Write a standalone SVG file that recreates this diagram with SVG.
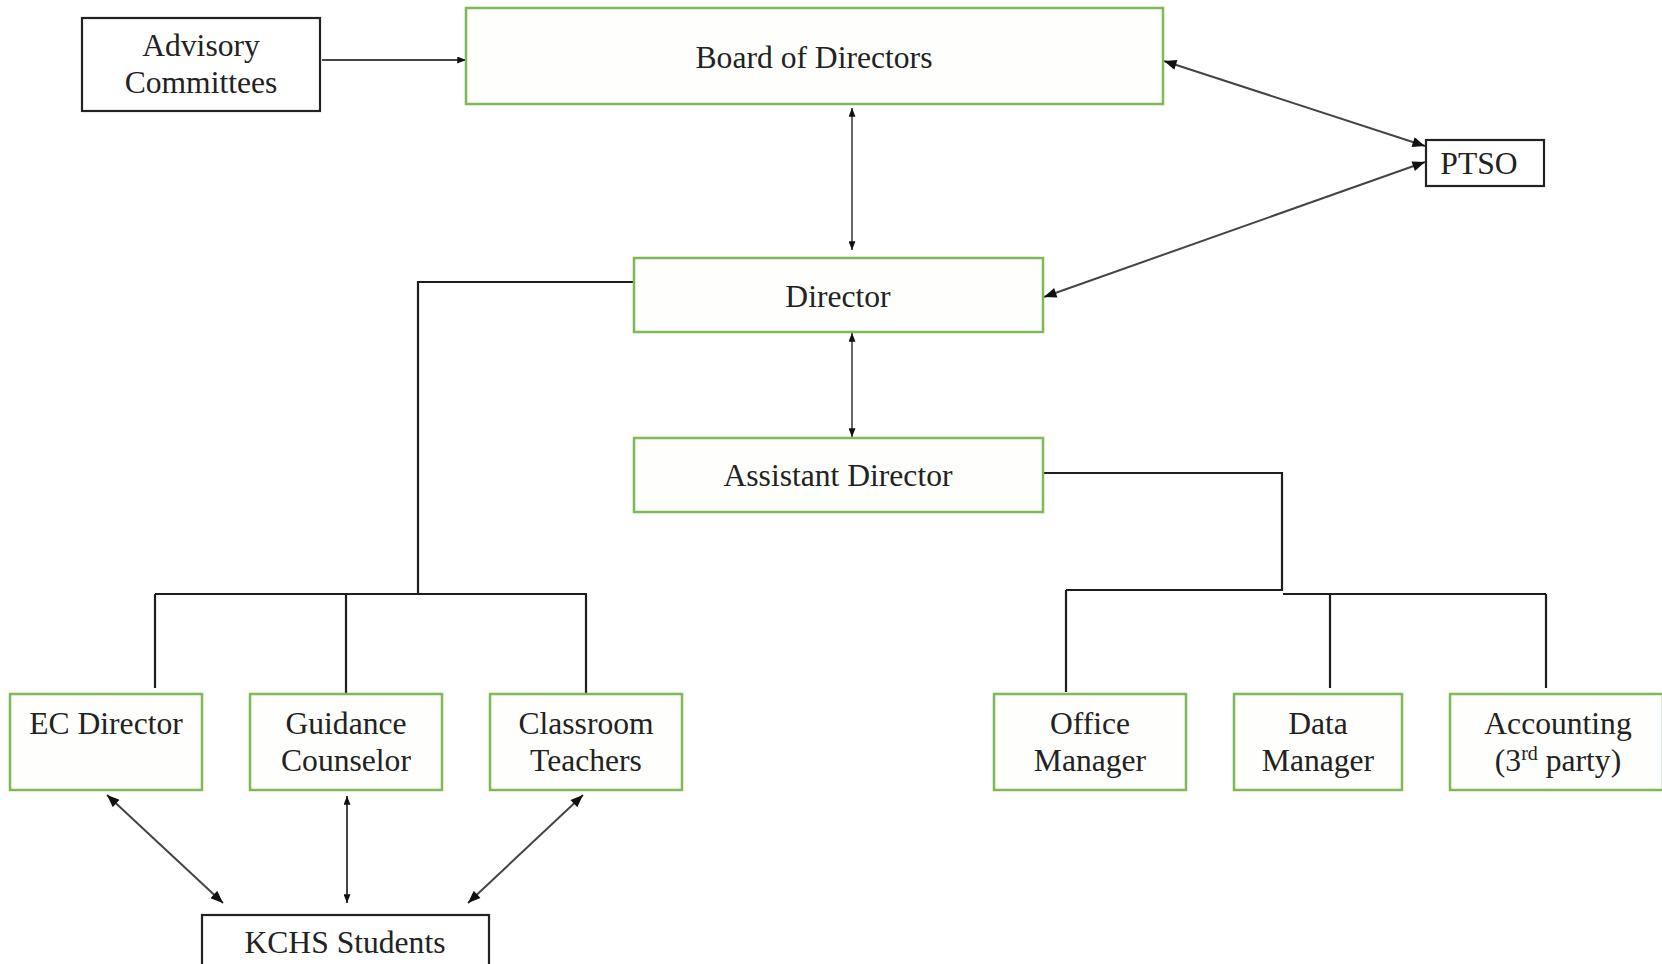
<svg xmlns="http://www.w3.org/2000/svg" width="1662" height="964" viewBox="0 0 1662 964">
<style>
.g{fill:#fefffc;stroke:#7db955;stroke-width:2.5}
.b{fill:#ffffff;stroke:#222;stroke-width:2.2}
.t{font-family:"Liberation Serif","Times New Roman",serif;font-size:31.6px;fill:#222;text-anchor:middle}
.c{fill:none;stroke:#1e1e1e;stroke-width:2.2}
.a{fill:none;stroke:#444;stroke-width:2}
.s{fill:none;stroke:#666;stroke-width:2}
</style>
<defs>
<marker id="ms" viewBox="0 0 10 8" refX="10" refY="4" markerWidth="9" markerHeight="7" markerUnits="userSpaceOnUse" orient="auto-start-reverse"><path d="M0,0 L10,4 L0,8 z" fill="#111"/></marker>
<marker id="ml" viewBox="0 0 10 8" refX="10" refY="4" markerWidth="14" markerHeight="10" markerUnits="userSpaceOnUse" orient="auto-start-reverse"><path d="M0,0 L10,4 L0,8 z" fill="#111"/></marker>
</defs>
<rect width="1662" height="964" fill="#ffffff"/>
<g id="connectors">
<line class="a" x1="322" y1="60" x2="466" y2="60" marker-end="url(#ms)"/>
<line class="a" x1="1164" y1="61" x2="1425" y2="146" marker-start="url(#ml)" marker-end="url(#ml)"/>
<line class="a" x1="1425" y1="162" x2="1044" y2="297" marker-start="url(#ml)" marker-end="url(#ml)"/>
<line class="s" x1="852" y1="108" x2="852" y2="250" marker-start="url(#ms)" marker-end="url(#ms)"/>
<line class="s" x1="852" y1="333" x2="852" y2="437" marker-start="url(#ms)" marker-end="url(#ms)"/>
<polyline class="c" points="634,282 418,282 418,594"/>
<line class="c" x1="155" y1="594" x2="587" y2="594"/>
<line class="c" x1="155" y1="594" x2="155" y2="688"/>
<line class="c" x1="346" y1="594" x2="346" y2="693"/>
<line class="c" x1="586" y1="594" x2="586" y2="694"/>
<line class="a" x1="107" y1="795" x2="223" y2="903" marker-start="url(#ml)" marker-end="url(#ml)"/>
<line class="a" x1="347" y1="796" x2="347" y2="903" marker-start="url(#ms)" marker-end="url(#ms)"/>
<line class="a" x1="583" y1="795" x2="468" y2="903" marker-start="url(#ml)" marker-end="url(#ml)"/>
<polyline class="c" points="1043,473 1282,473 1282,591"/>
<line class="c" x1="1066" y1="590" x2="1282" y2="590"/>
<line class="c" x1="1283" y1="594" x2="1546" y2="594"/>
<line class="c" x1="1066" y1="590" x2="1066" y2="692"/>
<line class="c" x1="1330" y1="594" x2="1330" y2="688"/>
<line class="c" x1="1546" y1="594" x2="1546" y2="688"/>
</g>
<g id="advisory"><rect class="b" x="82" y="18" width="238" height="93"/><text class="t" x="201" y="56">Advisory</text><text class="t" x="201" y="93">Committees</text></g>
<g id="board"><rect class="g" x="466" y="8" width="697" height="96"/><text class="t" x="814" y="68">Board of Directors</text></g>
<g id="ptso"><rect class="b" x="1426" y="140" width="118" height="46"/><text class="t" x="1479" y="174">PTSO</text></g>
<g id="director"><rect class="g" x="634" y="258" width="409" height="74"/><text class="t" x="838" y="307">Director</text></g>
<g id="assistant"><rect class="g" x="634" y="438" width="409" height="74"/><text class="t" x="838" y="486">Assistant Director</text></g>
<g id="ec"><rect class="g" x="10" y="694" width="192" height="96"/><text class="t" x="106" y="734">EC Director</text></g>
<g id="guidance"><rect class="g" x="250" y="694" width="192" height="96"/><text class="t" x="346" y="734">Guidance</text><text class="t" x="346" y="771">Counselor</text></g>
<g id="classroom"><rect class="g" x="490" y="694" width="192" height="96"/><text class="t" x="586" y="734">Classroom</text><text class="t" x="586" y="771">Teachers</text></g>
<g id="office"><rect class="g" x="994" y="694" width="192" height="96"/><text class="t" x="1090" y="734">Office</text><text class="t" x="1090" y="771">Manager</text></g>
<g id="data"><rect class="g" x="1234" y="694" width="168" height="96"/><text class="t" x="1318" y="734">Data</text><text class="t" x="1318" y="771">Manager</text></g>
<g id="accounting"><rect class="g" x="1450" y="694" width="213" height="96"/><text class="t" x="1558" y="734">Accounting</text><text class="t" x="1558" y="771">(3<tspan font-size="20" dy="-11">rd</tspan><tspan dy="11"> party)</tspan></text></g>
<g id="kchs"><rect class="b" x="202" y="915" width="287" height="60"/><text class="t" x="345" y="953">KCHS Students</text></g>
</svg>
